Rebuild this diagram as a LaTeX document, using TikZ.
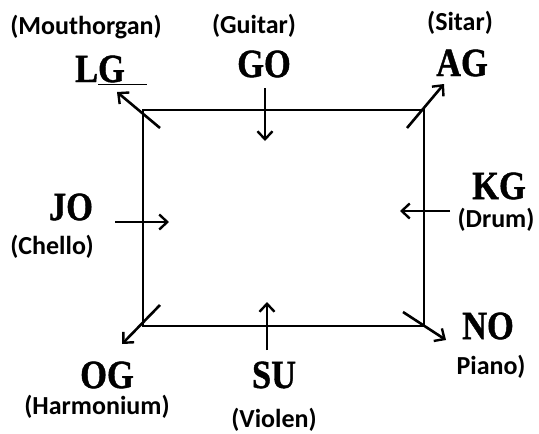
\documentclass[tikz,border=0pt]{standalone}
\usepackage{fontspec}
\newfontfamily\bandfont[FakeStretch=0.86,FakeBold=1]{Liberation Serif Bold}
\newfontfamily\instfont{Carlito Bold}
\usetikzlibrary{arrows.meta}

\tikzset{
  band/.style={font=\fontsize{40}{40}\bandfont, inner sep=0pt},
  inst/.style={font=\fontsize{26}{26}\instfont, inner sep=0pt},
  flow/.style={line width=2.6pt, -{Straight Barb[length=8pt,width=15pt,line width=2.4pt]}},
}

\begin{document}
\begin{tikzpicture}[x=1pt,y=-1pt,line width=2.6pt]
\useasboundingbox (0,0) rectangle (539,434);

% frame
\path (143,110) coordinate (tl);
\path (424,110) coordinate (tr);
\path (143,326) coordinate (bl);
\path (424,326) coordinate (br);
\draw (tl) -- (tr) -- (br) -- (bl) -- cycle;

% names
\path (111,70) node (LG) [band] {L\underline{G\hspace{22pt}}};
\path (264,64) node (GO) [band] {GO};
\path (462,63) node (AG) [band] {AG};
\path (499,186) node (KG) [band] {KG};
\path (71,207) node (JO) [band] {JO};
\path (107,375) node (OG) [band] {OG};
\path (274,375) node (SU) [band] {SU};
\path (488,326) node (NO) [band] {NO};

% instruments
\path (86,27) node (mouthorgan) [inst] {(Mouthorgan)};
\path (254,26) node (guitar) [inst] {(Guitar)};
\path (460,23) node (sitar) [inst] {(Sitar)};
\path (496,220) node (drum) [inst] {(Drum)};
\path (52,247) node (chello) [inst] {(Chello)};
\path (97,407) node (harmonium) [inst] {(Harmonium)};
\path (274,420) node (violen) [inst] {(Violen)};
\path (491,367) node (piano) [inst] {Piano)};

% arrow ends
\path (160,128) coordinate (lgtail);
\path (117,92) coordinate (lghead);
\path (407,128) coordinate (agtail);
\path (444,84) coordinate (aghead);
\path (160,305) coordinate (ogtail);
\path (122,344) coordinate (oghead);
\path (403,312) coordinate (notail);
\path (446,340) coordinate (nohead);
\path (265,88) coordinate (gotail);
\path (265,141) coordinate (gohead);
\path (267,350) coordinate (sutail);
\path (267,302) coordinate (suhead);
\path (115,222) coordinate (jotail);
\path (169,222) coordinate (johead);
\path (450,211) coordinate (kgtail);
\path (400,211) coordinate (kghead);

\draw [flow] (lgtail) to (lghead);
\draw [flow] (agtail) to (aghead);
\draw [flow] (ogtail) to (oghead);
\draw [flow] (notail) to (nohead);
\draw [flow] (gotail) to (gohead);
\draw [flow] (sutail) to (suhead);
\draw [flow] (jotail) to (johead);
\draw [flow] (kgtail) to (kghead);
\end{tikzpicture}
\end{document}
